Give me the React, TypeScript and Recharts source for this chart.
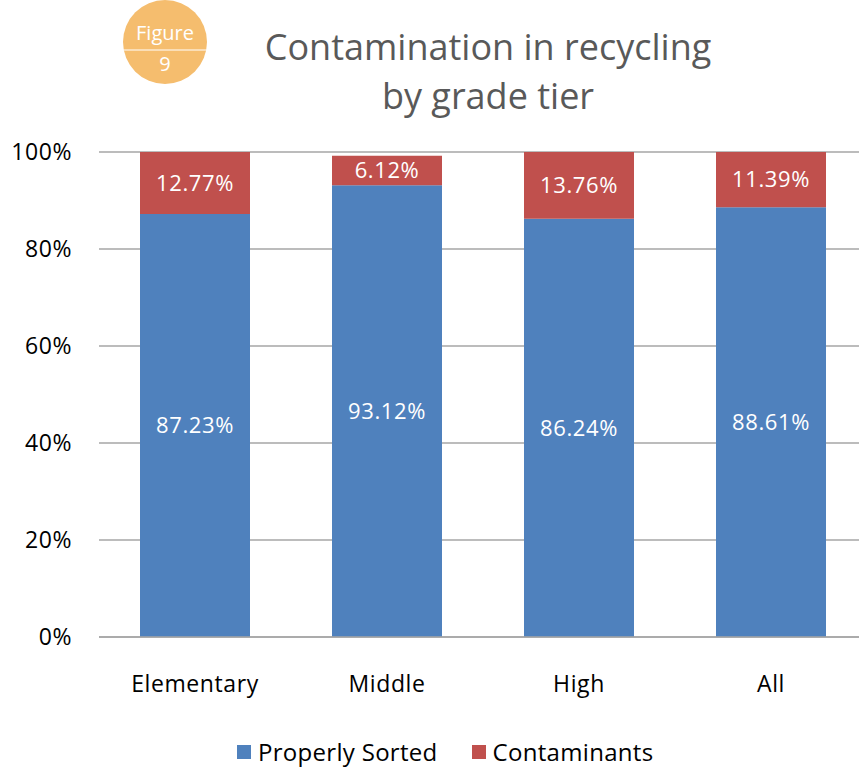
import { BarChart, Bar, XAxis, YAxis, CartesianGrid, LabelList } from 'recharts'

const categories = ['Elementary', 'Middle', 'High', 'All']
const properlySorted = [87.23, 93.12, 86.24, 88.61]
const contaminants = [12.77, 6.12, 13.76, 11.39]
const yTicks = [0, 20, 40, 60, 80, 100]

const BLUE = '#4f81bd'
const RED = '#c0504d'
const FONT = '"Open Sans", "Noto Sans", sans-serif'

const data = categories.map((name, i) => ({
  name,
  sorted: properlySorted[i],
  contam: contaminants[i],
}))

const pct = (v: number) => `${v.toFixed(2)}%`

const tickStyle = { fontSize: 23, fill: '#000', fontFamily: FONT, letterSpacing: 0.6 }

export default function App() {
  return (
    <div style={{ position: 'absolute', left: 0, top: 0, width: 859, height: 770, overflow: 'hidden', background: '#fff', fontFamily: FONT }}>
      {/* figure badge */}
      <svg style={{ position: 'absolute', left: 0, top: 0 }} width={260} height={100}>
        <circle cx={165} cy={42} r={42} fill="#f5bd6e" />
        <line x1={123} x2={207} y1={50} y2={50} stroke="#fff" strokeWidth={1.2} />
        <text x={165} y={40} textAnchor="middle" fill="#fff" fontSize={20} fontFamily={FONT}>Figure</text>
        <text x={165} y={71} textAnchor="middle" fill="#fff" fontSize={20} fontFamily={FONT}>9</text>
      </svg>

      <div
        style={{
          position: 'absolute', left: 238, top: 22, width: 500, textAlign: 'center',
          fontSize: 36, lineHeight: '49px', color: '#595959',
        }}
      >
        Contamination in recycling
        <br />
        by grade tier
      </div>

      {/* plot area runs a little past the right edge of the picture */}
      <BarChart
        width={867}
        height={770}
        data={data}
        margin={{ top: 152, right: 0, bottom: 73, left: 0 }}
        barSize={110}
      >
        <CartesianGrid vertical={false} stroke="#a6a6a6" strokeWidth={1.5} />
        <XAxis
          dataKey="name"
          height={60}
          tickLine={false}
          axisLine={{ stroke: '#a6a6a6', strokeWidth: 1.5 }}
          tickMargin={33}
          tick={tickStyle}
        />
        <YAxis
          width={99}
          domain={[0, 100]}
          ticks={yTicks}
          tickFormatter={(v: number) => `${v}%`}
          tickLine={false}
          axisLine={false}
          tickSize={0}
          tickMargin={27}
          tick={tickStyle}
        />
        <Bar dataKey="sorted" stackId="a" fill={BLUE} isAnimationActive={false}>
          <LabelList dataKey="sorted" position="center" formatter={(v: any) => pct(Number(v))} fill="#fff" fontSize={22} fontFamily={FONT} letterSpacing={0.6} />
        </Bar>
        <Bar dataKey="contam" stackId="a" fill={RED} isAnimationActive={false}>
          <LabelList dataKey="contam" position="center" formatter={(v: any) => pct(Number(v))} fill="#fff" fontSize={22} fontFamily={FONT} letterSpacing={0.6} />
        </Bar>
      </BarChart>

      {/* legend */}
      <div style={{ position: 'absolute', top: 735, left: 237, display: 'flex', alignItems: 'center', fontSize: 24, letterSpacing: 0.3, color: '#000' }}>
        <span style={{ width: 14, height: 14, background: BLUE, display: 'inline-block', marginRight: 7 }} />
        <span>Properly Sorted</span>
        <span style={{ width: 14, height: 14, background: RED, display: 'inline-block', marginLeft: 34, marginRight: 7 }} />
        <span>Contaminants</span>
      </div>
    </div>
  )
}
